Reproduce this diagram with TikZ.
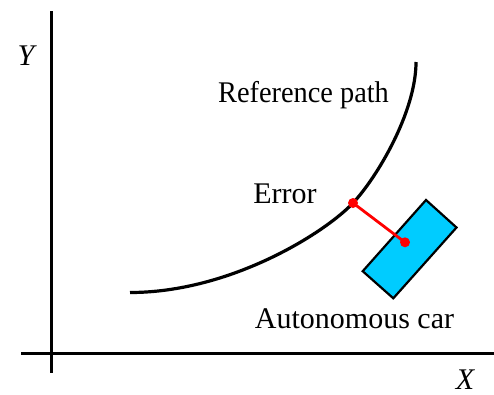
\documentclass[tikz,border=0pt]{standalone}
\usepackage{fontspec}
\setmainfont{Liberation Serif}
\begin{document}
\begin{tikzpicture}[x=1pt,y=-1pt,
  axis/.style={line width=3pt},
  lbl/.style={font=\fontsize{30}{30}\selectfont, inner sep=0pt, anchor=base},
  errdot/.style={circle, fill=red, inner sep=0pt, minimum size=10pt},
]
\useasboundingbox (0,0) rectangle (494,394);
% axes
\coordinate (ytop) at (51,11);
\coordinate (ybot) at (51,373);
\coordinate (xl) at (21,353);
\coordinate (xr) at (494,353);
\draw[axis] (ytop) -- (ybot);
\draw[axis] (xl) -- (xr);
\node[lbl, font=\fontsize{30}{30}\selectfont\itshape] (ylab) at (26,65) {Y};
\node[lbl, font=\fontsize{30}{30}\selectfont\itshape] (xlab) at (465,389) {X};
% reference path
\coordinate (ps) at (130,292.5);
\coordinate (pm) at (353,203);
\coordinate (pe) at (416,62);
\draw[line width=3.2pt] (ps) .. controls (231,292.5) and (325.6,232.2) .. (pm)
  .. controls (376.9,177.5) and (416,112) .. (pe);
% car
\coordinate (c1) at (426,200);
\coordinate (c2) at (456.5,227.5);
\coordinate (c3) at (393.3,298.3);
\coordinate (c4) at (362.7,271.2);
\draw[line width=2.2pt, fill={rgb,255:red,0;green,204;blue,255}] (c1) -- (c2) -- (c3) -- (c4) -- cycle;
% error
\node[errdot] (e1) at (pm) {};
\node[errdot] (e2) at (405,242.3) {};
\draw[red, line width=2.8pt] (e1.center) -- (e2.center);
% labels
\node[lbl] (ref) at (303.5,102) {\scalebox{0.945}[1]{Reference path}};
\node[lbl] (err) at (285,203) {Error};
\node[lbl] (car) at (354.5,328) {Autonomous car};
\end{tikzpicture}
\end{document}
